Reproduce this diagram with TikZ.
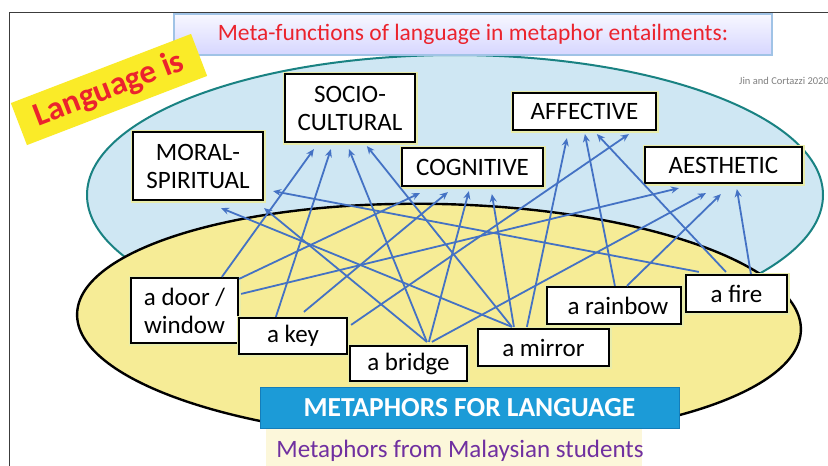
\documentclass[tikz,border=0pt]{standalone}
\usepackage{fontspec}
\setmainfont{Carlito}
\usetikzlibrary{arrows.meta,calc}
\definecolor{arrblue}{RGB}{68,114,196}
\definecolor{teal2}{RGB}{25,130,130}
\definecolor{lblue}{RGB}{207,231,243}
\definecolor{lyellow}{RGB}{246,236,150}
\definecolor{cream}{RGB}{252,247,218}
\definecolor{halo}{RGB}{232,236,170}
\definecolor{titlered}{RGB}{235,35,45}
\definecolor{titleborder}{RGB}{160,195,230}
\definecolor{bannerblue}{RGB}{28,155,215}
\definecolor{bannerborder}{RGB}{20,125,185}
\definecolor{purp}{RGB}{112,48,160}
\definecolor{brightyellow}{RGB}{250,235,40}
\definecolor{framegray}{RGB}{60,60,60}
\tikzset{
  lbl/.style={draw=black, line width=2.2pt, fill=white,
    preaction={draw=halo, line width=5pt},
    font=\fontsize{25}{28}\selectfont, align=center, inner sep=0pt},
  arr/.style={draw=arrblue, line width=1.8pt, -{Stealth[length=8pt,width=7pt]}},
}
\begin{document}
\begin{tikzpicture}[x=1pt,y=-1pt]
\useasboundingbox (0,0) rectangle (828,466);
\fill[white] (0,0) rectangle (828,466);
% frame
\draw[framegray, line width=1pt] (9,466) -- (9,12) -- (828,12);
% blue ellipse
\draw[teal2, line width=2pt, fill=lblue] (455,195) ellipse [x radius=368pt, y radius=140pt];
% title
\node[draw=titleborder, line width=1.5pt, top color=blue!3, bottom color=blue!16,
      minimum width=598pt, minimum height=41pt, inner sep=0pt,
      font=\fontsize{23.5}{26}\selectfont, text=titlered] (title) at (473,34.5)
      {Meta-functions of language in metaphor entailments:};
% citation
\node[anchor=west, text=gray, font=\fontsize{10.5}{12}\selectfont, inner sep=0pt] (cite) at (739,81) {Jin and Cortazzi 2020};
% yellow ellipse
\draw[black, line width=2.4pt, fill=lyellow, rotate around={-1.3:(439,322)}] (439,322) ellipse [x radius=362pt, y radius=118pt];
% cream band
\fill[cream] (266,428) rectangle (642,466);
\node[font=\fontsize{25}{28}\selectfont, text=purp, inner sep=0pt] (sub) at (460,451) {Metaphors from Malaysian students};
% banner
\node[draw=bannerborder, line width=1pt, fill=bannerblue, minimum width=419pt, minimum height=41pt,
      inner sep=0pt, text=white, font=\bfseries\fontsize{27.5}{30}\selectfont] (banner) at (469.5,407.5)
      {METAPHORS FOR LANGUAGE};
% boxes
\node[lbl, minimum width=130pt, minimum height=68pt] (socio) at (350,108) {SOCIO-\\CULTURAL};
\node[lbl, minimum width=130pt, minimum height=68pt] (moral) at (198,166) {MORAL-\\SPIRITUAL};
\node[lbl, minimum width=141pt, minimum height=38pt] (cog) at (472.5,167) {COGNITIVE};
\node[lbl, minimum width=143pt, minimum height=37pt] (aff) at (584.5,111.5) {AFFECTIVE};
\node[lbl, minimum width=157pt, minimum height=36pt] (aes) at (723.5,165) {AESTHETIC};
\node[lbl, minimum width=107pt, minimum height=65pt] (door) at (184.5,310.5) {a door /\\window};
\node[lbl, minimum width=108pt, minimum height=36pt] (key) at (293,336) {a key};
\node[lbl, minimum width=117pt, minimum height=35pt] (bridge) at (408.5,363.5) {a bridge};
\node[lbl, minimum width=131pt, minimum height=37pt] (mirror) at (543.5,347.5) {a mirror};
\node[lbl, minimum width=134pt, minimum height=37pt] (rainbow) at (614,305.5) {\hspace{8pt}a rainbow};
\node[lbl, minimum width=101pt, minimum height=37pt] (fire) at (736.5,293.5) {a fire};
% arrows
\draw[arr] ($(door.north west)+(92,0)$) -- ($(socio.south west)+(30,6)$);
\draw[arr] ($(door.north east)+(0,2)$) -- ($(cog.south west)+(19,6)$);
\draw[arr] ($(door.north east)+(2,17)$) -- ($(aes.south west)+(35,4)$);
\draw[arr] ($(key.north west)+(38,0)$) -- ($(socio.south west)+(47,6)$);
\draw[arr] ($(key.north west)+(66,-5)$) -- ($(cog.south west)+(47,5)$);
\draw[arr] ($(key.north east)+(3,8)$) -- ($(aff.south west)+(117,3)$);
\draw[arr] ($(bridge.north west)+(78,-3)$) -- ($(moral.south east)+(0,7)$);
\draw[arr] ($(bridge.north west)+(78,-3)$) -- ($(socio.south west)+(65,6)$);
\draw[arr] ($(bridge.north west)+(80,-3)$) -- ($(cog.south west)+(68,4)$);
\draw[arr] ($(bridge.north west)+(83,-3)$) -- ($(aes.south west)+(62,9)$);
\draw[arr] ($(mirror.north west)+(35,-1)$) -- ($(moral.south east)+(-43,7)$);
\draw[arr] ($(mirror.north west)+(35,-1)$) -- ($(socio.south west)+(83,3)$);
\draw[arr] ($(mirror.north west)+(37,-1)$) -- ($(cog.south west)+(91,7)$);
\draw[arr] ($(mirror.north west)+(50,-1)$) -- ($(aff.south west)+(55,7)$);
\draw[arr] ($(rainbow.north west)+(69,0)$) -- ($(aff.south west)+(73,3)$);
\draw[arr] ($(rainbow.north west)+(81,0)$) -- ($(aes.south west)+(77,10)$);
\draw[arr] ($(fire.north west)+(14,-2)$) -- ($(moral.south east)+(9,-10)$);
\draw[arr] ($(fire.north west)+(41,-2)$) -- ($(aff.south west)+(85,3)$);
\draw[arr] ($(fire.north west)+(66,0)$) -- ($(aes.south west)+(93,5)$);
% Language is
\node[fill=brightyellow, rotate=21, minimum width=193pt, minimum height=45pt, inner sep=0pt,
      text=titlered, font=\bfseries\fontsize{33}{36}\selectfont] (lang) at (109,89.5) {Language is};
\end{tikzpicture}
\end{document}
